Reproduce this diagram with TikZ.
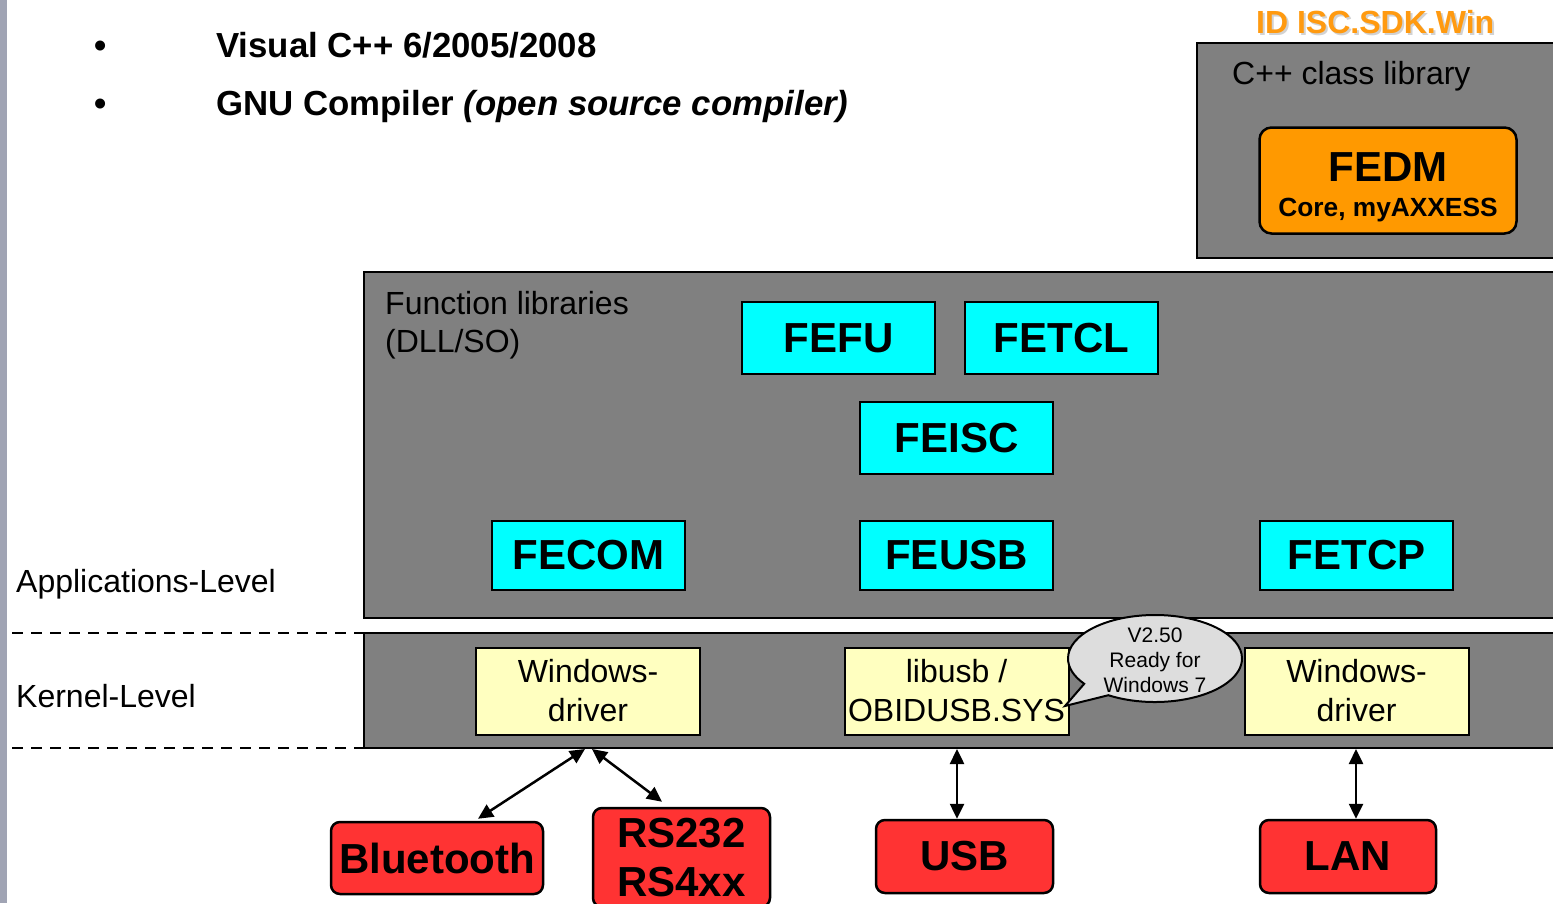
\documentclass[tikz,border=0pt]{standalone}
\usepackage{fontspec}
\setmainfont{Liberation Sans}
\usetikzlibrary{arrows.meta,shapes.callouts,shapes.geometric,calc}
\definecolor{panelgray}{HTML}{808080}
\definecolor{cyanbox}{HTML}{00FFFF}
\definecolor{drvyellow}{HTML}{FFFFC0}
\definecolor{ifred}{HTML}{FF3333}
\definecolor{fedmorange}{HTML}{FF9900}
\definecolor{titleorange}{HTML}{FF9A10}
\definecolor{calloutgray}{HTML}{DDDDDD}
\definecolor{stripgray}{HTML}{A0A4B4}
\begin{document}
\begin{tikzpicture}[x=1pt,y=-1pt,
  panel/.style={draw=black,line width=2.5pt,fill=panelgray,inner sep=0pt,outer sep=0pt,anchor=north west},
  libbox/.style={draw=black,line width=2.5pt,fill=cyanbox,minimum width=193pt,inner sep=0pt,font=\fontsize{42}{42}\selectfont\bfseries},
  drvbox/.style={draw=black,line width=2pt,fill=drvyellow,minimum width=224pt,minimum height=87pt,inner sep=0pt,align=center,font=\fontsize{32}{39}\selectfont},
  ifbox/.style={draw=black,line width=2.5pt,fill=ifred,rounded corners=9pt,inner sep=0pt,align=center,font=\fontsize{42}{49}\selectfont\bfseries},
  lbl/.style={inner sep=0pt,anchor=base west,font=\fontsize{32}{38}\selectfont},
  bul/.style={inner sep=0pt,font=\fontsize{34.8}{40}\selectfont\bfseries},
  link/.style={line width=2.5pt,{Triangle[length=15pt,width=14pt]}-{Triangle[length=15pt,width=14pt]}},
  level/.style={line width=2pt,dash pattern=on 11pt off 8pt}
]
\useasboundingbox (0,0) rectangle (1553,903);
\fill[stripgray] (0,0) rectangle (7,903);

% bullets
\node[bul,anchor=base] (b1) at (101,57) {•};
\node[bul,anchor=base west] (t1) at (216,57) {Visual C++ 6/2005/2008};
\node[bul,anchor=base] (b2) at (101,115) {•};
\node[bul,anchor=base west] (t2) at (216,115) {GNU Compiler \textit{(open source compiler)}};

% title
\node[inner sep=0pt,anchor=base west,text=gray!35,font=\fontsize{32}{38}\selectfont\bfseries] (titleshadow) at (1258,35) {ID ISC.SDK.Win};
\node[inner sep=0pt,anchor=base west,text=titleorange,font=\fontsize{32}{38}\selectfont\bfseries] (title) at (1256,33) {ID ISC.SDK.Win};

% C++ class library
\node[panel,minimum width=370pt,minimum height=215pt] (cpp) at (1197,43) {};
\node[lbl] (cpplbl) at (1232,84) {C++ class library};
\node[draw=black,line width=2.5pt,fill=fedmorange,rounded corners=12pt,minimum width=257pt,minimum height=106pt,inner sep=0pt] (fedm) at (1388,180.5) {};
\node[inner sep=0pt,anchor=base,font=\fontsize{42}{42}\selectfont\bfseries] (fedmt) at (1388,181) {FEDM};
\node[inner sep=0pt,anchor=base,font=\fontsize{26.3}{30}\selectfont\bfseries] (fedmc) at (1388,216) {Core, myAXXESS};

% function libraries
\node[panel,minimum width=1200pt,minimum height=346pt] (funclib) at (364,272) {};
\node[lbl] (fl1) at (385,314) {Function libraries};
\node[lbl] (fl2) at (385,352) {(DLL/SO)};
\node[libbox,minimum height=72pt] (fefu) at (838.5,338) {FEFU};
\node[libbox,minimum height=72pt] (fetcl) at (1061.5,338) {FETCL};
\node[libbox,minimum height=72pt] (feisc) at (956.5,438) {FEISC};
\node[libbox,minimum height=69pt] (fecom) at (588.5,555.5) {FECOM};
\node[libbox,minimum height=69pt] (feusb) at (956.5,555.5) {FEUSB};
\node[libbox,minimum height=69pt] (fetcp) at (1356.5,555.5) {FETCP};

% levels
\node[lbl] (applvl) at (16,592) {Applications-Level};
\node[lbl] (kernlvl) at (16,707) {Kernel-Level};
\coordinate (d1a) at (12,633);
\coordinate (d1b) at (364,633);
\coordinate (d2a) at (12,748);
\coordinate (d2b) at (364,748);
\draw[level] (d1a) -- (d1b);
\draw[level] (d2a) -- (d2b);

% kernel
\node[panel,minimum width=1200pt,minimum height=115pt] (kernel) at (364,633) {};
\node[drvbox] (drv1) at (588,691) {Windows-\\driver};
\node[drvbox] (drv2) at (956.5,691) {libusb /\\OBIDUSB.SYS};
\node[drvbox] (drv3) at (1356.5,691) {Windows-\\driver};

% callout
\node[ellipse callout,draw=black,line width=2pt,fill=calloutgray,minimum width=174pt,minimum height=87pt,inner sep=0pt,callout absolute pointer={(1065,706)},callout pointer arc=22] (note) at (1155,658.5) {};
\node[inner sep=0pt,align=center,font=\fontsize{21}{25}\selectfont] (notet) at (1155,660) {V2.50\\Ready for\\Windows 7};

% interfaces
\node[ifbox,minimum width=212pt,minimum height=72pt] (bt) at (437,858) {Bluetooth};
\node[ifbox,minimum width=177pt,minimum height=99pt] (rs) at (681.5,857.5) {RS232\\RS4xx};
\node[ifbox,minimum width=177pt,minimum height=73pt] (usb) at (964.5,856.5) {USB};
\node[ifbox,minimum width=176pt,minimum height=73pt] (lan) at (1348,856.5) {LAN};

% connectors
\coordinate (k1) at (585,749);
\coordinate (k2) at (592,749);
\coordinate (k3) at (957,749);
\coordinate (k4) at (1356,749);
\draw[link] (k1) -- ($(bt.north)+(41,-2)$);
\draw[link] (k2) -- ($(rs.north)+(-19.5,-5)$);
\draw[link] (k3) -- (k3 |- usb.north);
\draw[link] (k4) -- (k4 |- lan.north);
\end{tikzpicture}
\end{document}
